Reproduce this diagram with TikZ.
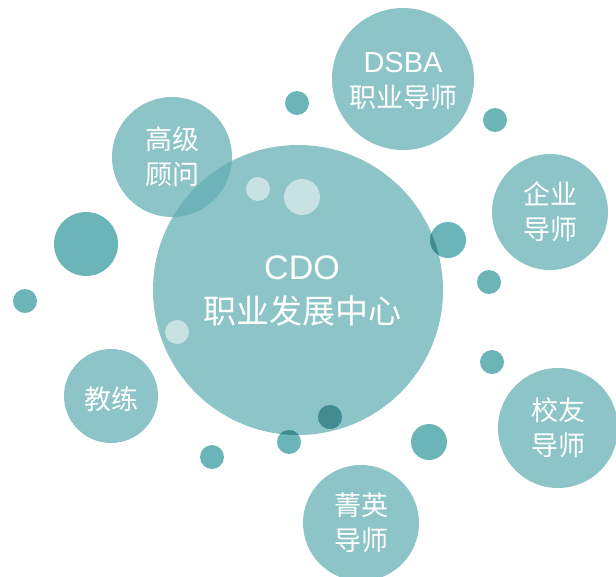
\documentclass[tikz,border=0pt]{standalone}
\usepackage{fontspec}
\newfontfamily\cjk{Noto Sans CJK SC}
\newfontfamily\latn{Liberation Sans}
\definecolor{bigc}{HTML}{8DC4C7}
\definecolor{dotc}{HTML}{6BB5B9}
\definecolor{ovlc}{HTML}{6EB3B7}
\definecolor{darkc}{HTML}{3F8B8F}
\definecolor{whitec}{HTML}{C8E2E3}
\begin{document}
\begin{tikzpicture}[x=1pt,y=-1pt,
  bubble/.style={circle, fill=bigc, inner sep=0pt, minimum size=#1},
  dotn/.style={circle, fill=dotc, inner sep=0pt, minimum size=#1},
  glint/.style={circle, fill=whitec, inner sep=0pt, minimum size=#1},
  lbl/.style={text=white, align=center, inner sep=0pt, font=\cjk\fontsize{27}{35}\selectfont},
  biglbl/.style={text=white, align=center, inner sep=0pt, font=\cjk\fontsize{33}{44}\selectfont}]
\useasboundingbox (0,0) rectangle (616,576);
% large bubbles
\node[bubble=290pt] (cdo) at (298,290) {};
\node[bubble=120pt] (gj) at (172,157) {};
\node[bubble=142pt] (dsba) at (403,79) {};
\node[bubble=116pt] (qy) at (550,212) {};
\node[bubble=120pt] (xy) at (558,428) {};
\node[bubble=116pt] (jy) at (361,523) {};
\node[bubble=94pt] (jl) at (111,396) {};
% small dots
\node[dotn=64pt] (d1) at (86,244) {};
\node[dotn=24pt] (d2) at (25,301) {};
\node[dotn=24pt] (d3) at (297,103) {};
\node[dotn=24pt] (d4) at (495,120) {};
\node[dotn=36pt] (d5) at (448,240) {};
\node[dotn=24pt] (d6) at (489,282) {};
\node[dotn=24pt] (d7) at (492,362) {};
\node[dotn=36pt] (d8) at (429,442) {};
\node[dotn=24pt] (d9) at (330,417) {};
\node[dotn=24pt] (d10) at (289,442) {};
\node[dotn=24pt] (d11) at (212,457) {};
% overlaps with the central bubble
\begin{scope}
  \clip (cdo.center) circle[radius=145];
  \fill[ovlc] (gj.center) circle[radius=60];
  \fill[darkc] (d5.center) circle[radius=18];
  \fill[darkc] (d9.center) circle[radius=12];
  \fill[darkc] (d10.center) circle[radius=12];
\end{scope}
% light glints inside the central bubble
\node[glint=24pt] (w1) at (258,189) {};
\node[glint=36pt] (w2) at (302,197) {};
\node[glint=24pt] (w3) at (177,332) {};
% labels
\node[biglbl] (cdo-t) at ([xshift=4pt,yshift=-1pt]cdo.center) {{\latn\fontsize{34}{44}\selectfont CDO}\\职业发展中心};
\node[lbl] (gj-t) at (gj.center) {高级\\顾问};
\node[lbl] (dsba-t) at ([yshift=-2pt]dsba.center) {{\latn\fontsize{29}{35}\selectfont DSBA}\\职业导师};
\node[lbl] (qy-t) at (qy.center) {企业\\导师};
\node[lbl] (xy-t) at (xy.center) {校友\\导师};
\node[lbl] (jy-t) at (jy.center) {菁英\\导师};
\node[lbl] (jl-t) at ([yshift=-3pt]jl.center) {教练};
\end{tikzpicture}
\end{document}
